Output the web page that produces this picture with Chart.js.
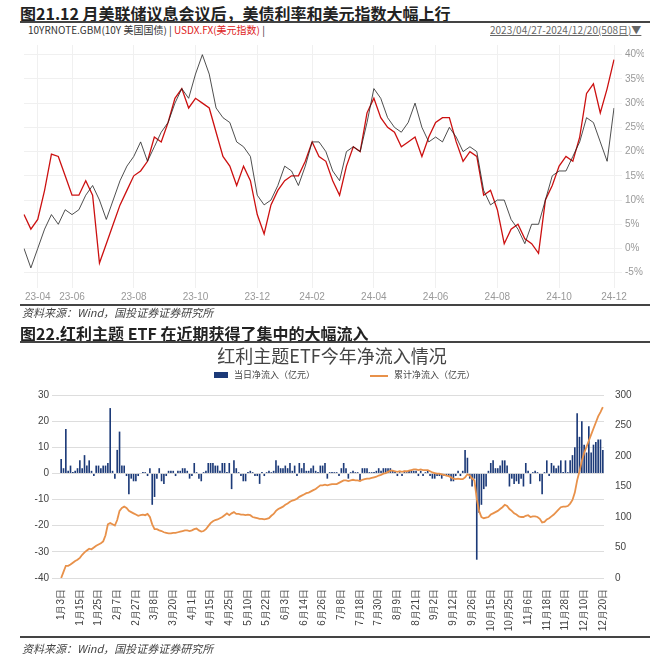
<!DOCTYPE html>
<html><head><meta charset="utf-8">
<script src="https://cdn.jsdelivr.net/npm/chart.js@4"></script>
<style>
body{margin:0;width:668px;height:665px;background:#fff;font-family:"Noto Sans CJK SC","Noto Sans",sans-serif;position:relative;overflow:hidden}
.a{position:absolute;white-space:nowrap}
.hr{position:absolute;left:20px;width:630px;height:2px;background:#444}
</style></head><body>
<div class="a" style="left:20px;top:1px;font-size:16px;font-weight:bold;color:#222">图21.12 月美联储议息会议后，美债利率和美元指数大幅上行</div>
<div class="hr" style="top:21px"></div>
<div class="a" style="left:28px;top:22px;font-size:10px;color:#333">10YRNOTE.GBM(10Y 美国国债) | <span style="color:#d22">USDX.FX(美元指数)</span> |</div>
<div class="a" style="left:490px;top:22px;font-size:10px;color:#666;text-decoration:underline">2023/04/27-2024/12/20(508日)▼</div>
<div class="a" style="left:20px;top:36px;width:628px;height:270px"><canvas id="c1"></canvas></div>
<div class="hr" style="top:304px"></div>
<div class="a" style="left:22px;top:304px;font-size:11px;font-style:italic;color:#444">资料来源：Wind，国投证券证券研究所</div>
<div class="a" style="left:20px;top:321px;font-size:16px;font-weight:bold;color:#222">图22.红利主题 ETF 在近期获得了集中的大幅流入</div>
<div class="hr" style="top:341px"></div>
<div class="a" style="left:0;width:664px;text-align:center;top:342px;font-size:18px;color:#444">红利主题ETF今年净流入情况</div>
<div class="a" style="left:214px;top:368px;font-size:9px;color:#444"><span style="display:inline-block;width:14px;height:6px;background:#1c3a78;margin-right:6px"></span>当日净流入（亿元）</div>
<div class="a" style="left:370px;top:368px;font-size:9px;color:#444"><span style="display:inline-block;width:18px;height:2px;background:#e8914a;vertical-align:middle;margin-right:6px"></span>累计净流入（亿元）</div>
<div class="a" style="left:24px;top:386px;width:620px;height:252px"><canvas id="c2"></canvas></div>
<div class="hr" style="top:636px"></div>
<div class="a" style="left:22px;top:640px;font-size:11px;font-style:italic;color:#444">资料来源：Wind，国投证券证券研究所</div>
<script>
const weekTicks = {2:'23-04',7:'23-06',16:'23-08',25:'23-10',34:'23-12',42:'24-02',51:'24-04',60:'24-06',69:'24-08',78:'24-10',86:'24-12'};
const yPctTicks = [-5,0,5,10,15,20,25,30,35,40];
const usdx = [7,4,6,12,19.5,19,15,11,11,14,11,-3,1,5,9,12,15,16,18,23,22,26,31,33,29,31,30,29,24,19,17,13,17,14,7,3,9,12,14,15,15,18,22,19,18,14,11,17,21,20,28,31,27,25,24,21,22,23,19,23,26,27,27,22,18,20,19,11,12,8,1,4,5,2,1,-1,10,13,17,19,18,23,32,34,28,33,39];
const us10y = [0,-4,0,4,7,5,8,7,8,11,13,10,6,10,14,17,19,22,18,21,24,26,30,33,31,36,40,36,29,27,26,22,21,19,11,9,10,13,17,16,13,17,22,22,20,16,14,20,21,20,26,33,31,27,25,24,26,30,25,22,23,22,25,23,20,21,20,12,9,10,10,6,4,1,5,5,10,15,16,16,19,22,27,26,22,18,29];
const dayTicks = ['1月3日','1月15日','1月25日','2月7日','2月27日','3月8日','3月20日','4月1日','4月15日','4月25日','5月10日','5月22日','6月3日','6月14日','6月26日','7月8日','7月18日','7月30日','8月9日','8月21日','9月2日','9月12日','9月26日','10月15日','10月25日','11月6日','11月18日','11月28日','12月10日','12月20日'];
const dailyFlow = [5.5,2,17,1,3,0.5,1,2, 5,2,7,3,5,1,-1,3, 3,2,3,3,4,25,1,-2, 9,16,3,3,-1,-8,-2,-3, -3,-1,0,0.5,0.5,-1,2,-12, -9,-2,2,-3,-4,-1,1,1, 1,-1,1,1,2,2,1,-2, -1,4,0.5,-2,-3,0.5,1,4, 4,4,3,3,1,4,4,0.5, 4,-6,5,2,0.5,-1,-3,-3, 0.5,1,0.5,-1,-1,-4,0.5,-1, 0.5,1,0.5,1,5,3,2,2, 3,2,4,1,3,-1,4,2, 4,1,1,2,3,1,0.5,3, 3,4,-2,0.5,0.5,0.5,0.5,-1, 2,4,2,-2,0.5,1,0.5,0.5, -3,2,2,2,0.5,0.5,0.5,1, 2,1,2,2,2,2,1,0.5, -1,0.5,-1,1,0.5,1,1,1, 1,-1,1,-1,0.5,1,-1,-2, -2,-1,-1,-2,-1,-1,-1,-3, -3,-1,1,-1,1,9,6,-2, -5,-2,-33,-15,-12,-6,-5,1, 4,5,2,2,3,5,5,3, -5,-2,-4,-3,-4,-2,-5,4, 1,-4,0.5,1,0.5,-3,-8,0.5, 5,-1,4,3,2,3,5,0.5, 5,0.5,5,7,10,23,14,20, 11,8,18,8,11,12,13,13, 9];
const cumFlow = [0,10,20,20,22,25,28,30, 33,38,42,45,48,47,50,53, 55,57,60,70,88,90,88,86, 95,110,115,117,115,110,108,106, 104,102,103,104,103,105,100,88, 80,80,78,77,75,74,73,73, 74,74,75,76,77,78,78,77, 78,80,81,78,76,77,80,85, 90,93,95,96,98,100,103,106, 103,106,108,105,105,104,104,103, 104,103,100,99,98,97,97,96, 97,98,102,105,110,113,115,117, 120,122,125,127,128,130,133,135, 137,139,140,142,144,146,149,152, 152,153,152,153,154,154,154,156, 158,160,160,159,160,161,160,160, 159,161,162,163,163,164,165,166, 168,169,171,172,174,176,176,175, 174,175,174,175,175,176,177,178, 178,177,178,177,177,177,175,173, 172,171,171,170,169,168,167,165, 163,162,163,162,162,165,170,168, 163,160,130,110,100,98,99,100, 104,106,108,110,113,116,120,118, 113,110,106,104,101,100,100,102, 103,100,101,101,100,97,91,92, 96,98,101,104,108,112,116,117, 117,118,122,128,140,160,175,192, 205,215,225,235,245,255,265,272, 280];

const grey = '#999';
new Chart(document.getElementById('c1'), {
  type:'line',
  data:{labels:usdx.map((_,i)=>weekTicks[i]||''),datasets:[
    {data:us10y,borderColor:'#222',borderWidth:0.8,pointRadius:0,tension:0},
    {data:usdx,borderColor:'#cc1010',borderWidth:1.3,pointRadius:0,tension:0}]},
  options:{animation:false,responsive:true,maintainAspectRatio:false,
    layout:{padding:{top:6,right:4,left:4}},
    plugins:{legend:{display:false},tooltip:{enabled:false}},
    scales:{
      x:{grid:{color:'#f0f0f0'},border:{display:false},
        ticks:{autoSkip:false,maxRotation:0,color:grey,font:{size:10},callback:function(v){return weekTicks[v]||null}}},
      y:{position:'right',min:-6.5,max:42,grid:{color:'#f0f0f0'},border:{display:false},
        afterFit:s=>{s.width=30},
        afterBuildTicks:s=>{s.ticks=yPctTicks.map(v=>({value:v}))},
        ticks:{color:grey,font:{size:10},callback:v=>v+'%'}}}}
});

new Chart(document.getElementById('c2'), {
  data:{labels:dailyFlow.map((_,i)=>i),datasets:[
    {type:'line',data:cumFlow,yAxisID:'y2',borderColor:'#e8914a',borderWidth:1.8,pointRadius:0,tension:0},
    {type:'bar',data:dailyFlow,yAxisID:'y',backgroundColor:'#1c3a78',barPercentage:0.7,categoryPercentage:1}]},
  options:{animation:false,responsive:true,maintainAspectRatio:false,
    layout:{padding:{top:2}},
    plugins:{legend:{display:false},tooltip:{enabled:false}},
    scales:{
      x:{grid:{display:false},border:{display:false},afterFit:s=>{s.height=60},
        ticks:{autoSkip:false,minRotation:90,maxRotation:90,color:'#444',font:{size:10},
          callback:function(v){return v%8===0?dayTicks[v/8]:null}}},
      y:{min:-40,max:30,grid:{color:'#ddd',borderDash:[3,3]},border:{display:false},afterFit:s=>{s.width=36},
        ticks:{stepSize:10,color:'#444',font:{size:10}}},
      y2:{position:'right',min:0,max:300,grid:{display:false},border:{display:false},afterFit:s=>{s.width=40},
        ticks:{stepSize:50,color:'#444',font:{size:10}}}}}
});
</script></body></html>
